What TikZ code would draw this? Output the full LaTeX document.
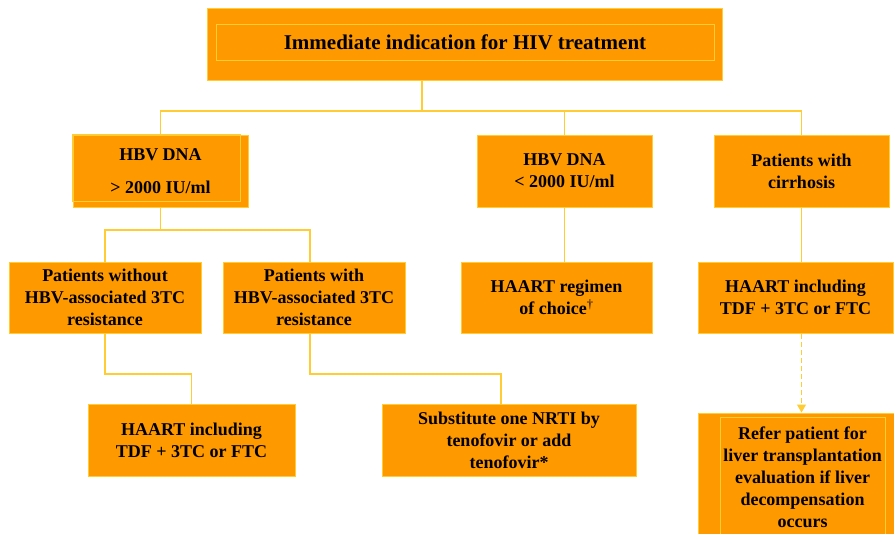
\documentclass[tikz,border=0pt]{standalone}
\usepackage{fontspec}
\setmainfont{Liberation Serif}
\usetikzlibrary{arrows.meta}
\definecolor{boxorange}{RGB}{255,153,0}
\definecolor{lineyellow}{RGB}{255,204,51}

\begin{document}
\begin{tikzpicture}[x=1pt,y=-1pt,
  box/.style={draw=lineyellow,fill=boxorange,line width=1pt,inner sep=0pt,
    align=center,font=\fontsize{18}{22}\selectfont\bfseries},
  conn/.style={draw=lineyellow,line width=1.2pt}]
\useasboundingbox (0,0) rectangle (894,533);

% top box, with its inner frame
\node[box,minimum width=515,minimum height=72] (top) at (464.5,44) {};
\node[box,minimum width=498,minimum height=36,
  font=\fontsize{21}{25}\selectfont\bfseries] (title) at (465,42)
  {Immediate indication for HIV treatment};

% first row
\node[box,minimum width=175,minimum height=72] (hi) at (160.5,171)
  {HBV DNA\\[11pt]> 2000 IU/ml};
\draw[lineyellow,line width=1pt] (hi.north west) rectangle (240,201);
\node[box,minimum width=175,minimum height=72] (lo) at (564.5,171)
  {HBV DNA\\< 2000 IU/ml};
\node[box,minimum width=175,minimum height=72] (cirr) at (801.5,171)
  {Patients with\\cirrhosis};

% second row
\node[box,minimum width=192,minimum height=71] (pwo) at (105,297.5)
  {Patients without\\HBV-associated 3TC\\resistance};
\node[box,minimum width=182,minimum height=71] (pw) at (314,297.5)
  {Patients with\\HBV-associated 3TC\\resistance};
\node[box,minimum width=191,minimum height=71] (choice) at (556.5,297.5)
  {HAART regimen\\of choice\textsuperscript{\mdseries †}};
\node[box,minimum width=195,minimum height=71] (haartr) at (795.5,297.5)
  {HAART including\\TDF + 3TC or FTC};

% third row
\node[box,minimum width=207,minimum height=72] (haartl) at (191.5,440)
  {HAART including\\TDF + 3TC or FTC};
\node[box,minimum width=254,minimum height=72] (subst) at (509,440)
  {Substitute one NRTI by\\tenofovir or add\\tenofovir*};
\node[box,minimum width=240,minimum height=140] (refer) at (818,483) {};
\node[box,minimum width=165,minimum height=120] (refertxt) at (802.5,477)
  {Refer patient for\\liver transplantation\\evaluation if liver\\decompensation\\occurs};

% connectors
\coordinate (bus) at (422,111); % upper bar.
\coordinate (bus2) at (160,230);
\coordinate (bus3) at (0,374); % lower bars.

\draw[conn] (top.south -| bus) -- (bus);
\draw[conn] (hi.north) |- (bus) -| (cirr.north);
\draw[conn] (lo.north |- bus) -- (lo.north);

\draw[conn] (hi.south) -- (hi.south |- bus2);
\draw[conn] (pwo.north) |- (bus2) -| ([xshift=-4pt]pw.north);

\draw[conn] (lo.south) -- (lo.south |- choice.north);
\draw[conn] (cirr.south) -- (cirr.south |- haartr.north);

\draw[conn] (pwo.south) -- (pwo.south |- bus3) -| (haartl.north);
\draw[conn] ([xshift=-4pt]pw.south) -- ([xshift=-4pt]pw.south |- bus3)
  -| ([xshift=-8pt]subst.north);

\draw[conn,dash pattern=on 5pt off 3pt,-{Triangle[width=9pt,length=8pt]}]
  (cirr.south |- haartr.south) -- (cirr.south |- refer.north);

\end{tikzpicture}
\end{document}
